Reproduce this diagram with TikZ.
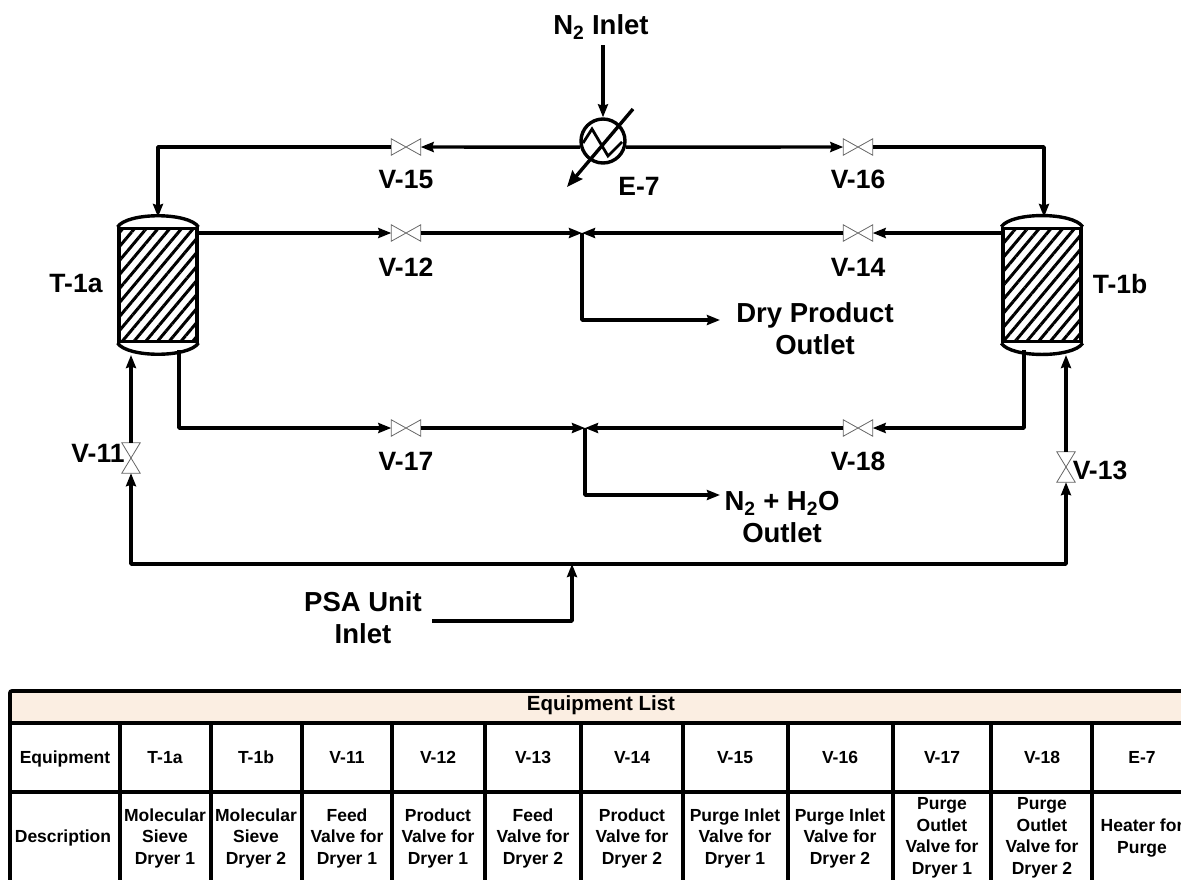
\documentclass[tikz,border=0pt]{standalone}
\usepackage{fontspec}
\setmainfont{Liberation Sans}
\usepackage{tikz}
\usetikzlibrary{arrows.meta, positioning, patterns.meta}
\definecolor{headfill}{HTML}{FBEEE2}

\begin{document}
\begin{tikzpicture}[
    x=1pt, y=-1pt,
    pipe/.style={line width=3.4pt, line join=round},
    arrow/.style={pipe, -{Stealth[length=13pt, width=10pt, inset=1.5pt]}},
    valve/.style={inner sep=0pt, minimum width=29pt, minimum height=16pt},
    vvalve/.style={inner sep=0pt, minimum width=18pt, minimum height=30pt},
    valveline/.style={draw=black!60, line width=0.8pt},
    tower/.style={draw, line width=3.4pt, inner sep=0pt, minimum width=78pt, minimum height=113pt, pattern={Lines[angle=50, distance=9pt, line width=3pt]}},
    heater/.style={draw, line width=3.4pt, circle, inner sep=0pt, minimum size=44pt},
    tag/.style={font=\fontsize{26.5}{30}\selectfont\bfseries, inner sep=0pt, align=center},
    outlet/.style={font=\fontsize{27.5}{32}\selectfont\bfseries, inner sep=0pt, align=center},
    cell/.style={font=\fontsize{17.5}{21.5}\selectfont\bfseries, inner sep=0pt, align=center},
    grid/.style={line width=3.8pt}
]
\clip (0,0) rectangle (1181,879);

% equipment
\node[tower] (t1a) at (158,285) {};
\node[tower] (t1b) at (1042,285) {};
\node[heater] (e7) at (603,141) {};
\node[valve] (v15) at (406,147) {};
\node[valve] (v16) at (858,147) {};
\node[valve] (v12) at (406,233) {};
\node[valve] (v14) at (858,233) {};
\node[valve] (v17) at (406,428) {};
\node[valve] (v18) at (858,428) {};
\node[vvalve] (v11) at (131,458) {};
\node[vvalve] (v13) at (1066,467) {};

\foreach \tw in {t1a, t1b} {
    \draw[line width=3.4pt] (\tw.north west) .. controls +(10,-15) and +(-10,-15) .. (\tw.north east);
    \draw[line width=3.4pt] (\tw.south west) .. controls +(10,15) and +(-10,15) .. (\tw.south east);
}
\foreach \vv in {v12, v14, v15, v16, v17, v18}
    \draw[valveline] (\vv.north west) -- (\vv.south east) -- (\vv.north east) -- (\vv.south west) -- cycle;
\foreach \vv in {v11, v13}
    \draw[valveline] (\vv.north west) -- (\vv.north east) -- (\vv.south west) -- (\vv.south east) -- cycle;

% heater inside
\draw[line width=2.8pt] (583,143) -- (592,129) -- (608,156) -- (622,142);
\coordinate (e7a) at (633,109);
\coordinate (e7b) at (567,187);
\draw[line width=3.4pt, -{Stealth[length=16pt, width=13pt, inset=2pt]}] (e7a) -- (e7b);

% labels
\node[outlet] (n2in) at (601,27) {N\textsubscript{2} Inlet};
\node[tag] (e7lab) at (639,186) {E-7};
\node[tag, below=15pt of v15] (v15lab) {V-15};
\node[tag, below=15pt of v16] (v16lab) {V-16};
\node[tag, below=17pt of v12] (v12lab) {V-12};
\node[tag, below=17pt of v14] (v14lab) {V-14};
\node[tag, below=16pt of v17] (v17lab) {V-17};
\node[tag, below=16pt of v18] (v18lab) {V-18};
\node[tag] (v11lab) at (98,453) {V-11};
\node[tag] (v13lab) at (1100,470) {V-13};
\node[tag] (t1alab) at (76,284) {T-1a};
\node[tag] (t1blab) at (1120,284) {T-1b};
\node[outlet] (drylab) at (815,329) {Dry Product\\Outlet};
\node[outlet] (wetlab) at (782,517) {N\textsubscript{2} + H\textsubscript{2}O\\Outlet};
\node[outlet] (psalab) at (363,618) {PSA Unit\\Inlet};

% junctions
\coordinate (topa) at (158,217);
\coordinate (topb) at (1044,217);
\coordinate (j1) at (582,233);
\coordinate (j2) at (585,428);
\coordinate (j3) at (572,564);
\coordinate (dryend) at (720,320);
\coordinate (wetend) at (720,495);
\coordinate (psastart) at (432,621);
\coordinate (bota) at (131,355);
\coordinate (botb) at (1066,355);
\coordinate (outa) at (179,350);
\coordinate (outb) at (1024,350);

% pipes
\draw[arrow] (603,45) -- (e7.north);
\draw[arrow] (e7.195) -- (v15);
\draw[arrow] (e7.-15) -- (v16);
\draw[arrow] (v15) -| (topa);
\draw[arrow] (v16) -| (topb);
\draw[arrow] (t1a.east |- v12) -- (v12);
\draw[arrow] (t1b.west |- v14) -- (v14);
\draw[arrow] (v12) -- (j1);
\draw[arrow] (v14) -- (j1);
\draw[arrow] (j1) |- (dryend);
\draw[arrow] (outa) |- (v17);
\draw[arrow] (outb) |- (v18);
\draw[arrow] (v17) -- (j2);
\draw[arrow] (v18) -- (j2);
\draw[arrow] (j2) |- (wetend);
\draw[arrow] (psastart) -| (j3);
\draw[arrow] (j3) -| (v11);
\draw[arrow] (j3) -| (v13);
\draw[arrow] (v11) -- (bota);
\draw[arrow] (v13) -- (botb);

% equipment list
\fill[headfill] (10,691) rectangle (1190,723);
\draw[grid, rounded corners=2pt] (1190,691) -- (10,691) -- (10,890);
\draw[grid] (10,723) -- (1190,723);
\draw[grid] (10,792) -- (1190,792);
\foreach \gx in {120,211,302,392,485,581,683,788,893,991,1092}
    \draw[grid] (\gx,723) -- (\gx,890);
\node[cell, font=\fontsize{20.5}{24}\selectfont\bfseries] (listhead) at (601,705) {Equipment List};
\node[cell, anchor=base] (eqhead) at (65,763) {Equipment};
\node[cell] (deschead) at (63,838) {Description};
\foreach \cx/\cid/\cname/\cdesc in {
    165/ta/T-1a/{Molecular\\Sieve\\Dryer 1},
    256/tb/T-1b/{Molecular\\Sieve\\Dryer 2},
    347/va/V-11/{Feed\\Valve for\\Dryer 1},
    438/vb/V-12/{Product\\Valve for\\Dryer 1},
    533/vc/V-13/{Feed\\Valve for\\Dryer 2},
    632/vd/V-14/{Product\\Valve for\\Dryer 2},
    735/ve/V-15/{Purge Inlet\\Valve for\\Dryer 1},
    840/vf/V-16/{Purge Inlet\\Valve for\\Dryer 2},
    942/vg/V-17/{Purge\\Outlet\\Valve for\\Dryer 1},
    1042/vh/V-18/{Purge\\Outlet\\Valve for\\Dryer 2},
    1142/ex/E-7/{Heater for\\Purge}} {
    \node[cell, anchor=base] (name\cid) at (\cx,763) {\cname};
    \node[cell] (desc\cid) at (\cx,838) {\cdesc};
}
\end{tikzpicture}
\end{document}
